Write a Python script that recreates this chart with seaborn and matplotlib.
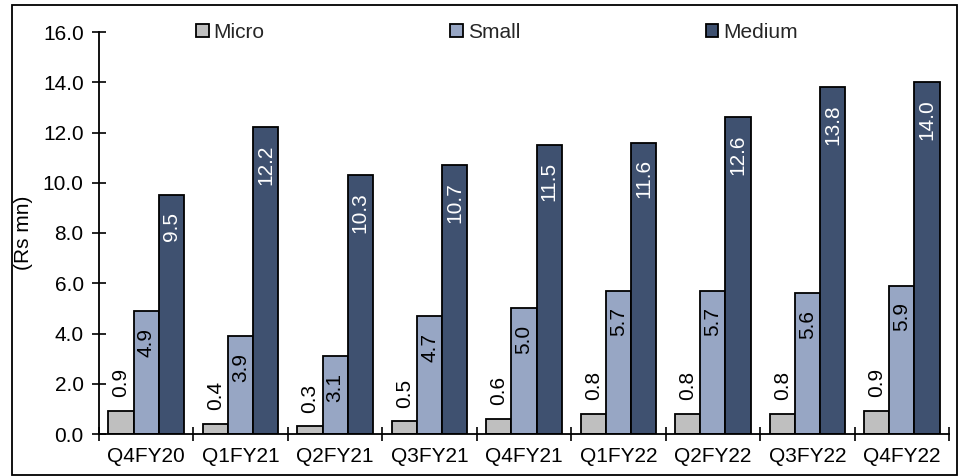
import matplotlib
matplotlib.use("Agg")
import matplotlib.pyplot as plt
import seaborn as sns
import pandas as pd
import numpy as np
from matplotlib.patches import Rectangle
from matplotlib.ticker import FixedLocator, FormatStrFormatter

quarters = ["Q4FY20", "Q1FY21", "Q2FY21", "Q3FY21", "Q4FY21",
            "Q1FY22", "Q2FY22", "Q3FY22", "Q4FY22"]
segments = ["Micro", "Small", "Medium"]
micro = [0.9, 0.4, 0.3, 0.5, 0.6, 0.8, 0.8, 0.8, 0.9]
small = [4.9, 3.9, 3.1, 4.7, 5.0, 5.7, 5.7, 5.6, 5.9]
medium = [9.5, 12.2, 10.3, 10.7, 11.5, 11.6, 12.6, 13.8, 14.0]
colors = ["#BFBFBF", "#97A6C4", "#3F5170"]

df = pd.DataFrame({
    "quarter": quarters * 3,
    "segment": [s for s in segments for _ in quarters],
    "value": micro + small + medium,
})

FS = 15

sns.set_theme(style="white")
plt.rcParams["font.family"] = ["Liberation Sans", "DejaVu Sans"]
plt.rcParams["font.size"] = FS

fig = plt.figure(figsize=(9.59, 4.76), dpi=100)
W, H = 959, 476
ax = fig.add_axes([99 / W, 1 - 434 / H, 850 / W, (434 - 32) / H])

sns.barplot(data=df, x="quarter", y="value", hue="segment",
            order=quarters, hue_order=segments, palette=colors,
            width=0.8, edgecolor="black", linewidth=1.3,
            saturation=1, ax=ax, legend=True)

ax.set_ylim(0, 16)
ax.set_xlim(-0.5, len(quarters) - 0.5)
ax.yaxis.set_major_locator(FixedLocator(np.arange(0, 16.1, 2)))
ax.yaxis.set_major_formatter(FormatStrFormatter("%.1f"))
ax.tick_params(axis="y", direction="inout", length=10, width=1.2,
               colors="black", labelsize=FS, pad=6, left=True)
ax.xaxis.set_minor_locator(FixedLocator(np.arange(-0.5, len(quarters), 1)))
ax.tick_params(axis="x", which="major", length=0, labelsize=FS, pad=9,
               colors="black")
ax.tick_params(axis="x", which="minor", direction="inout", length=10,
               width=1.2, bottom=True, color="black")
ax.set_xlabel("")
ax.set_ylabel("(Rs mn)", fontsize=FS, color="black", labelpad=7)

for side in ["top", "right"]:
    ax.spines[side].set_visible(False)
for side in ["left", "bottom"]:
    ax.spines[side].set_color("black")
    ax.spines[side].set_linewidth(1.3)

# value labels: micro above the bar, small/medium inside near the top
for cont, seg in zip(ax.containers, segments):
    for rect in cont:
        v = rect.get_height()
        xc = rect.get_x() + rect.get_width() / 2
        if seg == "Micro":
            ax.annotate(f"{v:.1f}", (xc, v), xytext=(0, 10),
                        textcoords="offset points", rotation=90,
                        ha="center", va="bottom", fontsize=FS, color="black")
        else:
            ax.annotate(f"{v:.1f}", (xc, v), xytext=(0, -12),
                        textcoords="offset points", rotation=90,
                        ha="center", va="top", fontsize=FS,
                        color="white" if seg == "Medium" else "black")

handles, labels = ax.get_legend_handles_labels()
ax.legend(handles, labels, ncol=3, loc="center left",
          bbox_to_anchor=(196 / W, 1 - 32 / H), bbox_transform=fig.transFigure,
          frameon=False, fontsize=FS, handlelength=0.6, handleheight=0.6,
          handletextpad=0.25, columnspacing=8.9, borderpad=0, borderaxespad=0)

# outer frame around the figure
fig.patches.append(Rectangle((12 / W, 1 - 475 / H), (957 - 12) / W,
                             (475 - 5) / H, transform=fig.transFigure,
                             fill=False, edgecolor="black", linewidth=1.3))

fig.savefig("out.png", dpi=100)
